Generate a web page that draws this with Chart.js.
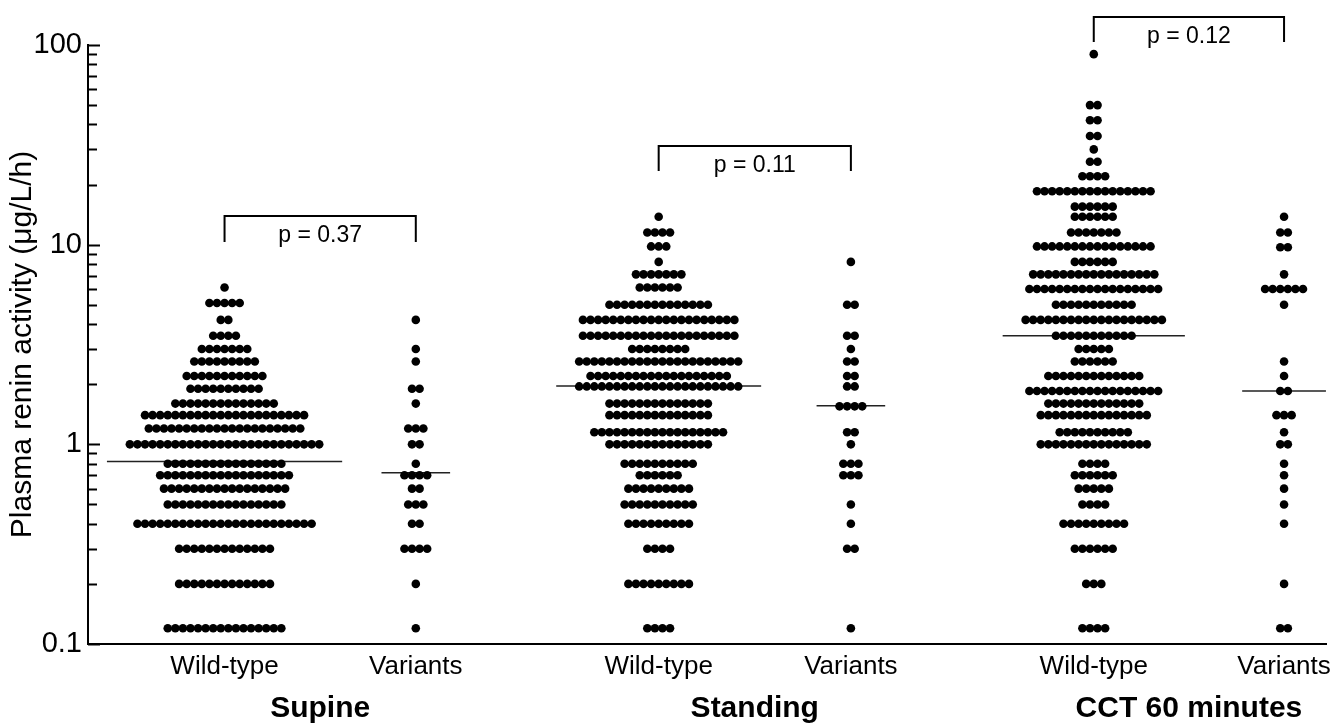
<!DOCTYPE html>
<html>
<head>
<meta charset="utf-8">
<script src="https://cdn.jsdelivr.net/npm/chart.js@4"></script>
<style>
  html, body { margin: 0; padding: 0; background: #fff; }
  #wrap { width: 1331px; height: 723px; }
</style>
</head>
<body>
<div id="wrap"><canvas id="reninChart" width="1331" height="723"></canvas></div>
<script>
// columns on the x axis
const columnLabels = ["Wild-type", "Variants", "Wild-type", "Variants", "Wild-type", "Variants"];
const columnPositions = [1, 2, 3.27, 4.275, 5.545, 6.54];
const groupLabels = ["Supine", "Standing", "CCT 60 minutes"];

// y axis
const yTickLabels = ["0.1", "1", "10", "100"];
const yTitle = "Plasma renin activity (\u03bcg/L/h)";

// dot rows: value level and number of subjects at that level
const supineWtLevels = [6.1, 5.1, 4.2, 3.5, 3.0, 2.6, 2.2, 1.9, 1.6, 1.4, 1.2, 1.0, 0.8, 0.7, 0.6, 0.5, 0.4, 0.3, 0.2, 0.12];
const supineWtCounts = [1, 5, 2, 4, 7, 9, 11, 10, 14, 22, 21, 26, 16, 18, 17, 16, 24, 13, 13, 16];

const supineVarLevels = [4.2, 3.0, 2.6, 1.9, 1.6, 1.2, 1.0, 0.8, 0.7, 0.6, 0.5, 0.4, 0.3, 0.2, 0.12];
const supineVarCounts = [1, 1, 1, 2, 1, 3, 2, 1, 4, 2, 3, 2, 4, 1, 1];

const standingWtLevels = [13.8, 11.5, 9.8, 8.2, 7.1, 6.1, 5.0, 4.2, 3.5, 3.0, 2.6, 2.2, 1.95, 1.6, 1.4, 1.15, 1.0, 0.8, 0.7, 0.6, 0.5, 0.4, 0.3, 0.2, 0.12];
const standingWtCounts = [1, 4, 3, 1, 7, 6, 14, 21, 21, 8, 22, 19, 22, 14, 14, 18, 14, 10, 6, 9, 10, 9, 4, 9, 4];

const standingVarLevels = [8.2, 5.0, 3.5, 3.0, 2.6, 2.2, 1.95, 1.55, 1.15, 1.0, 0.8, 0.7, 0.5, 0.4, 0.3, 0.12];
const standingVarCounts = [1, 2, 2, 1, 2, 2, 2, 4, 2, 1, 3, 3, 1, 1, 2, 1];

const cctWtLevels = [90, 50, 42, 35, 30, 26, 22, 18.5, 15.5, 13.8, 11.5, 9.8, 8.2, 7.1, 6.0, 5.0, 4.2, 3.5, 3.0, 2.6, 2.2, 1.85, 1.6, 1.4, 1.15, 1.0, 0.8, 0.7, 0.6, 0.5, 0.4, 0.3, 0.2, 0.12];
const cctWtCounts = [1, 2, 2, 2, 1, 2, 4, 16, 6, 6, 7, 16, 6, 17, 18, 11, 19, 11, 5, 6, 13, 18, 13, 15, 10, 15, 4, 6, 5, 4, 9, 6, 3, 4];

const cctVarLevels = [13.8, 11.5, 9.7, 7.1, 6.0, 5.0, 2.6, 2.2, 1.85, 1.4, 1.15, 1.0, 0.8, 0.7, 0.6, 0.5, 0.4, 0.2, 0.12];
const cctVarCounts = [1, 2, 2, 1, 6, 1, 1, 1, 2, 3, 1, 2, 1, 1, 1, 1, 1, 1, 2];

// medians per column
const medians = [0.82, 0.72, 1.96, 1.56, 3.5, 1.85];

// comparison brackets per group
const pTexts = ["p = 0.37", "p = 0.11", "p = 0.12"];
const bracketTop = [13.9, 31.2, 138];
const bracketBottom = [10.3, 23.4, 103.5];

const DOT_STEP = 0.0396;
const FONT = "'Liberation Sans', Arial, Helvetica, sans-serif";

const columns = [
  [supineWtLevels, supineWtCounts],
  [supineVarLevels, supineVarCounts],
  [standingWtLevels, standingWtCounts],
  [standingVarLevels, standingVarCounts],
  [cctWtLevels, cctWtCounts],
  [cctVarLevels, cctVarCounts],
];

function swarm(center, levels, counts) {
  const pts = [];
  levels.forEach((lv, i) => {
    const n = counts[i];
    for (let k = 0; k < n; k++) pts.push({ x: center + (k - (n - 1) / 2) * DOT_STEP, y: lv });
  });
  return pts;
}

const dotSets = columns.map(([levels, counts], i) => ({
  data: swarm(columnPositions[i], levels, counts),
  showLine: false,
  pointRadius: 4.3,
  pointBackgroundColor: "#000",
  pointBorderWidth: 0,
}));

const medianSets = medians.map((m, i) => {
  const half = (Math.max(...columns[i][1]) - 1) / 2 * DOT_STEP + 0.12;
  return {
    data: [{ x: columnPositions[i] - half, y: m }, { x: columnPositions[i] + half, y: m }],
    showLine: true,
    borderColor: "#222",
    borderWidth: 1.5,
    pointRadius: 0,
  };
});

const bracketSets = pTexts.map((_, g) => {
  const a = columnPositions[g * 2], b = columnPositions[g * 2 + 1];
  return {
    data: [
      { x: a, y: bracketBottom[g] }, { x: a, y: bracketTop[g] },
      { x: b, y: bracketTop[g] }, { x: b, y: bracketBottom[g] },
    ],
    showLine: true,
    borderColor: "#000",
    borderWidth: 2,
    pointRadius: 0,
    clip: false,
  };
});

// minor + major tick values on the log axis
const yTicks = [];
[0.1, 1, 10].forEach((d) => { for (let m = 1; m < 10; m++) yTicks.push(+(m * d).toPrecision(3)); });
yTicks.push(100);

const decorations = {
  id: "decorations",
  afterDraw(chart) {
    const { ctx, scales: { x, y }, chartArea } = chart;
    ctx.save();
    // inward tick marks on the y axis
    ctx.strokeStyle = "#000";
    ctx.lineWidth = 2;
    yTicks.forEach((v) => {
      const py = Math.round(y.getPixelForValue(v)) + 0.5;
      const major = yTickLabels.includes(String(v));
      ctx.beginPath();
      ctx.moveTo(chartArea.left, py);
      ctx.lineTo(chartArea.left + (major ? 12 : 9), py);
      ctx.stroke();
    });
    // p values
    ctx.fillStyle = "#000";
    ctx.textAlign = "center";
    ctx.textBaseline = "middle";
    ctx.font = "23px " + FONT;
    pTexts.forEach((t, g) => {
      const cx = x.getPixelForValue((columnPositions[g * 2] + columnPositions[g * 2 + 1]) / 2);
      ctx.fillText(t, cx, y.getPixelForValue(bracketTop[g]) + 20);
    });
    // group names under the axis
    ctx.font = "bold 30px " + FONT;
    groupLabels.forEach((t, g) => {
      const cx = x.getPixelForValue((columnPositions[g * 2] + columnPositions[g * 2 + 1]) / 2);
      ctx.fillText(t, cx, 709);
    });
    ctx.restore();
  },
};

Chart.defaults.font.family = FONT;
Chart.defaults.color = "#000";

new Chart(document.getElementById("reninChart"), {
  type: "scatter",
  data: { datasets: [...dotSets, ...medianSets, ...bracketSets] },
  options: {
    responsive: false,
    animation: false,
    layout: { padding: { top: 45, left: 0, right: 0, bottom: 0 } },
    plugins: { legend: { display: false }, tooltip: { enabled: false } },
    scales: {
      x: {
        type: "linear",
        min: 0.286,
        max: 6.763,
        grid: { display: false, drawTicks: false },
        border: { display: true, color: "#000", width: 2 },
        afterBuildTicks: (scale) => { scale.ticks = columnPositions.map((v) => ({ value: v })); },
        afterFit: (scale) => { scale.height = 79; scale.paddingLeft = 0; scale.paddingRight = 0; },
        ticks: {
          autoSkip: false,
          maxRotation: 0,
          padding: 7,
          font: { size: 26 },
          color: "#000",
          callback: (v, i) => columnLabels[i],
        },
      },
      y: {
        type: "logarithmic",
        min: 0.1,
        max: 100,
        grid: { display: false, drawTicks: false },
        border: { display: true, color: "#000", width: 2 },
        afterBuildTicks: (scale) => { scale.ticks = yTicks.map((v) => ({ value: v })); },
        afterFit: (scale) => { scale.width = 88; scale.paddingTop = 0; scale.paddingBottom = 0; },
        ticks: {
          autoSkip: false,
          padding: 6,
          font: { size: 29 },
          color: "#000",
          callback: (v) => (yTickLabels.includes(String(v)) ? String(v) : ""),
        },
        title: {
          display: true,
          text: yTitle,
          font: { size: 30 },
          color: "#000",
          padding: { top: 5, bottom: 0 },
        },
      },
    },
  },
  plugins: [decorations],
});
</script>
</body>
</html>
